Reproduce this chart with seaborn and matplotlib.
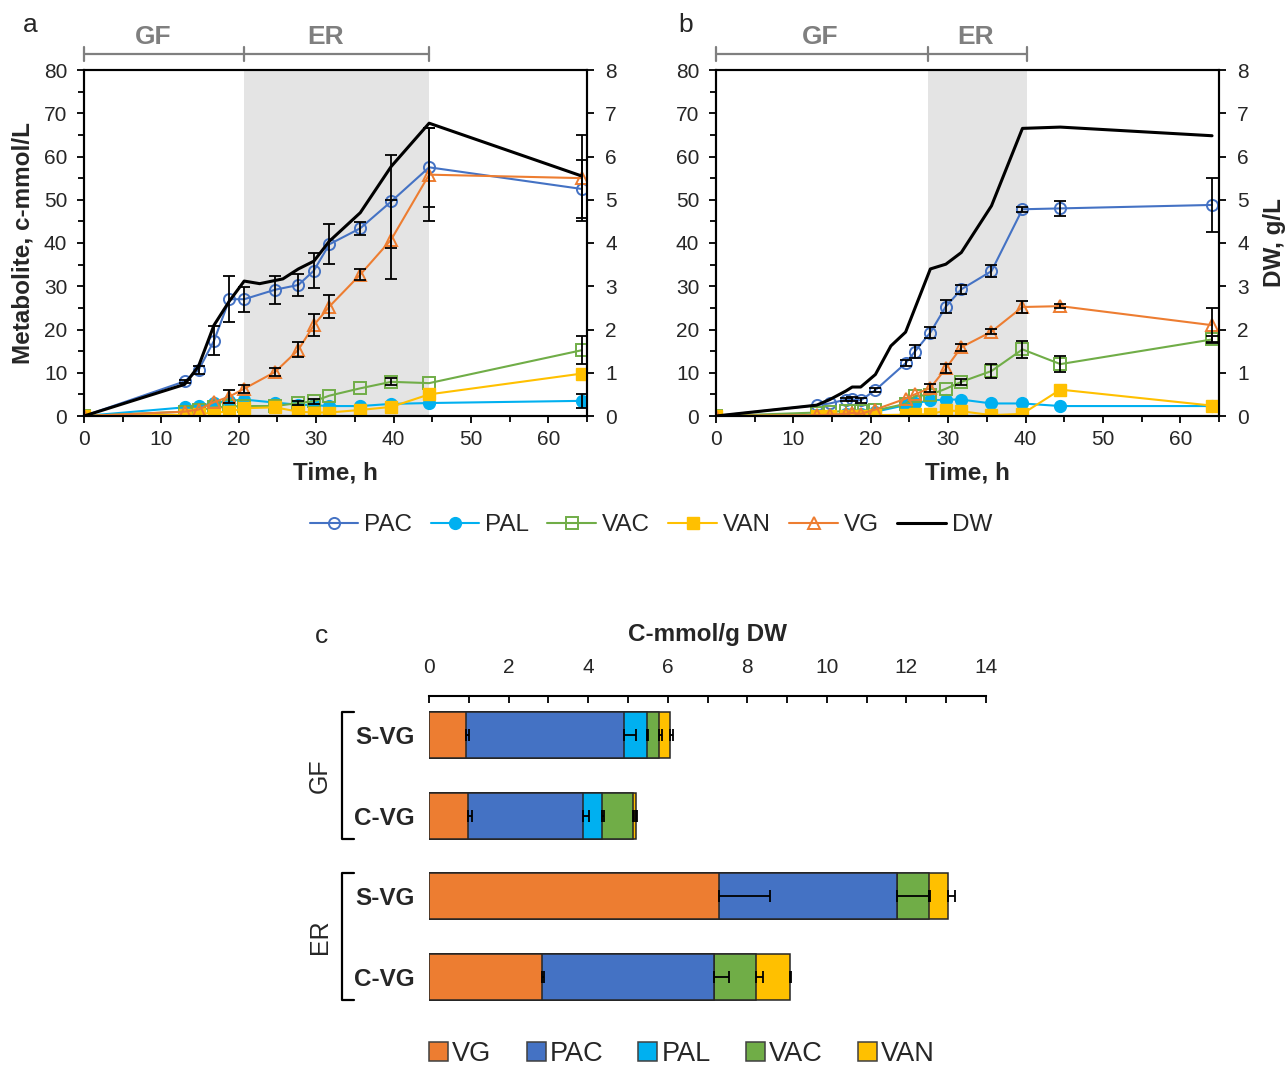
import numpy as np
import pandas as pd
import matplotlib
matplotlib.use("Agg")
import matplotlib.pyplot as plt
import matplotlib.transforms as mtransforms
from matplotlib.lines import Line2D
from matplotlib.patches import Patch
from matplotlib.ticker import MultipleLocator
import seaborn as sns

# ---- panel a data (c-mmol/L, DW in g/L) ----
time_a = [0, 13.0, 14.8, 16.8, 18.8, 20.7, 24.7, 27.7, 29.7, 31.7, 35.7, 39.7, 44.6, 64.3]
pac_a = [0, 8.0, 10.6, 17.4, 27.0, 27.0, 29.2, 30.3, 33.6, 39.7, 43.4, 49.6, 57.5, 52.5]
pac_a_err = [0, 0.4, 1.0, 3.4, 5.3, 2.9, 3.2, 2.5, 4.0, 4.6, 1.5, 10.8, 9.2, 6.8]
pal_a = [0, 2.0, 2.3, 3.0, 3.5, 3.8, 3.1, 2.6, 2.5, 2.3, 2.3, 2.8, 3.0, 3.5]
pal_a_err = [0, 0, 0, 0, 0, 0, 0, 0, 0, 0, 0, 0, 0, 1.7]
vac_a = [0, 1.0, 1.3, 2.0, 2.2, 2.3, 2.3, 3.0, 3.4, 4.7, 6.4, 7.9, 7.6, 15.2]
vac_a_err = [0, 0, 0, 0, 0, 0, 0, 0.4, 0.6, 0, 0, 0.8, 0, 3.2]
van_a = [0, 0.3, 0.4, 0.8, 1.0, 1.8, 2.0, 1.0, 0.8, 0.8, 1.4, 2.1, 5.0, 9.8]
vg_a = [0, 1.0, 1.5, 3.2, 4.5, 6.3, 10.2, 15.3, 21.0, 25.3, 32.7, 40.8, 55.8, 55.0]
vg_a_err = [0, 0, 0, 0, 1.4, 0.9, 1.0, 1.7, 2.5, 2.7, 1.2, 9.2, 10.8, 10.0]
dw_time_a = [0, 13.0, 14.8, 16.8, 18.8, 20.7, 22.7, 25.7, 27.7, 29.7, 31.7, 35.7, 39.7, 44.6, 64.3]
dw_a = [0, 0.73, 1.15, 2.1, 2.66, 3.12, 3.06, 3.17, 3.4, 3.58, 4.04, 4.7, 5.77, 6.77, 5.55]
phases_a = [0, 20.7, 44.6]

# ---- panel b data ----
time_b = [0, 13.0, 14.7, 16.8, 17.6, 18.7, 20.6, 24.5, 25.7, 27.7, 29.7, 31.7, 35.6, 39.6, 44.5, 64.1]
pac_b = [0, 2.5, 2.9, 3.8, 3.9, 3.6, 6.0, 12.2, 14.9, 19.3, 25.3, 29.3, 33.5, 47.8, 48.0, 48.8]
pac_b_err = [0, 0, 0, 0.4, 0.4, 0.6, 0.5, 0.7, 1.6, 1.2, 1.5, 1.0, 1.3, 0.6, 1.7, 6.3]
pal_b = [0, 0.3, 0.3, 0.4, 0.4, 0.4, 1.0, 2.5, 2.9, 3.6, 3.8, 3.8, 2.9, 2.9, 2.3, 2.3]
vac_b = [0, 0.8, 0.9, 1.2, 1.2, 1.2, 1.3, 2.8, 4.6, 4.9, 6.3, 7.9, 10.4, 15.4, 12.0, 17.7]
vac_b_err = [0, 0, 0, 0, 0, 0, 0, 0, 0, 0, 0, 0.7, 1.6, 1.9, 1.8, 0.8]
van_b = [0, 0.1, 0.1, 0.1, 0.1, 0.1, 0.2, 0.3, 0.4, 0.4, 1.3, 1.1, 0.2, 0.5, 6.1, 2.4]
vg_b = [0, 0.2, 0.3, 0.5, 0.7, 0.5, 1.5, 4.0, 5.0, 6.5, 11.0, 15.9, 19.5, 25.2, 25.4, 21.0]
vg_b_err = [0, 0, 0, 0, 0, 0, 0, 0, 0, 1.0, 1.0, 0.8, 0.6, 1.3, 0.5, 4.0]
dw_time_b = [0, 13.0, 14.7, 16.8, 17.6, 18.7, 20.6, 22.6, 24.5, 27.7, 29.7, 31.7, 35.6, 39.6, 44.5, 64.1]
dw_b = [0, 0.25, 0.38, 0.58, 0.67, 0.67, 0.96, 1.62, 1.94, 3.4, 3.51, 3.78, 4.86, 6.65, 6.68, 6.48]
phases_b = [0, 27.4, 40.2]

# ---- panel c data (C-mmol/g DW) ----
bar_groups = ["GF", "GF", "ER", "ER"]
bar_labels = ["S-VG", "C-VG", "S-VG", "C-VG"]
comp_names = ["VG", "PAC", "PAL", "VAC", "VAN"]
vg_c = [0.93, 0.97, 7.28, 2.85]
pac_c = [3.98, 2.90, 4.49, 4.32]
pal_c = [0.57, 0.49, 0.0, 0.0]
vac_c = [0.31, 0.76, 0.79, 1.04]
van_c = [0.28, 0.08, 0.48, 0.86]
vg_c_err = [0.08, 0.10, 1.30, 0.04]
pac_c_err = [0.30, 0.15, 0.79, 0.38]
pal_c_err = [0.03, 0.04, 0.0, 0.0]
vac_c_err = [0.06, 0.04, 0.02, 0.19]
van_c_err = [0.06, 0.03, 0.19, 0.03]

colors = {"PAC": "#4472C4", "PAL": "#00B0F0", "VAC": "#70AD47",
          "VAN": "#FFC000", "VG": "#ED7D31", "DW": "black"}
gray = "#7F7F7F"

sns.set_theme(style="ticks")
plt.rcParams["font.family"] = ["Liberation Sans", "DejaVu Sans"]

fig = plt.figure(figsize=(12.88, 10.66), dpi=100)
W, H = 1288, 1066


def px_axes(left, top, right, bottom):
    return fig.add_axes([left / W, 1 - bottom / H, (right - left) / W, (bottom - top) / H])


marker_style = {
    "PAC": dict(marker="o", mfc="none", ms=8, mew=1.4),
    "PAL": dict(marker="o", mfc=colors["PAL"], ms=8.5, mew=1.0),
    "VAC": dict(marker="s", mfc="none", ms=8, mew=1.4),
    "VAN": dict(marker="s", mfc=colors["VAN"], ms=8.5, mew=1.0),
    "VG": dict(marker="^", mfc="none", ms=8, mew=1.4),
}


def draw_errs(ax, x, y, err, **kw):
    # only points that actually carry an error bar
    x, y, err = np.asarray(x), np.asarray(y), np.asarray(err)
    keep = err > 0
    ax.errorbar(x[keep], y[keep], yerr=err[keep], fmt="none",
                ecolor="black", elinewidth=1.3, capsize=4, capthick=1.3, **kw)


def draw_panel(ax, t, series, errs, dw_t, dw, phases, left_label, right_label, lab_shift):
    ax.axvspan(phases[1], phases[2], color="#E4E4E4", lw=0, zorder=0)
    for name in ["PAC", "PAL", "VAC", "VAN", "VG"]:
        sns.lineplot(x=t, y=series[name], ax=ax, color=colors[name], lw=1.5,
                     mec=colors[name], legend=False, sort=False, estimator=None,
                     zorder=3, **marker_style[name])
        if name in errs:
            draw_errs(ax, t, series[name], errs[name], zorder=4)
    ax.set_xlim(0, 65)
    ax.set_ylim(0, 80)
    ax.xaxis.set_major_locator(MultipleLocator(10))
    ax.xaxis.set_minor_locator(MultipleLocator(5))
    ax.yaxis.set_major_locator(MultipleLocator(10))
    ax.yaxis.set_minor_locator(MultipleLocator(5))
    ax.tick_params(which="major", length=5, width=1.3, labelsize=15, pad=5, color="black")
    ax.tick_params(which="minor", length=4, width=1.3, color="black")
    ax.tick_params(axis="y", pad=7)
    ax.set_xlabel("Time, h", fontsize=17.5, fontweight="bold", labelpad=9)
    if left_label:
        ax.set_ylabel(left_label, fontsize=17.5, fontweight="bold", labelpad=7)
    for sp in ax.spines.values():
        sp.set_linewidth(1.5)
        sp.set_color("black")

    ax2 = ax.twinx()
    sns.lineplot(x=dw_t, y=dw, ax=ax2, color="black", lw=2.2, legend=False,
                 sort=False, estimator=None, zorder=5)
    ax2.set_ylim(0, 8)
    ax2.set_xlim(0, 65)
    ax2.yaxis.set_major_locator(MultipleLocator(1))
    ax2.tick_params(which="major", length=5, width=1.3, labelsize=15, pad=8, color="black")
    if right_label:
        ax2.set_ylabel(right_label, fontsize=17.5, fontweight="bold", labelpad=10)
    else:
        ax2.set_ylabel("")
    for sp in ax2.spines.values():
        sp.set_linewidth(1.5)
        sp.set_color("black")

    # phase brackets above the plot
    tr = ax.get_xaxis_transform()
    yl = 1.045
    ax.plot([phases[0], phases[2]], [yl, yl], color=gray, lw=1.6, transform=tr, clip_on=False)
    for p in phases:
        ax.plot([p, p], [1.025, 1.066], color=gray, lw=1.6, transform=tr, clip_on=False)
    for lab, a, b in [("GF", phases[0], phases[1]), ("ER", phases[1], phases[2])]:
        ax.text((a + b) / 2 + lab_shift, 1.074, lab, transform=tr, ha="center", va="baseline",
                fontsize=19, fontweight="bold", color=gray)


ax_a = px_axes(84, 70, 587, 416)
draw_panel(ax_a, time_a,
           {"PAC": pac_a, "PAL": pal_a, "VAC": vac_a, "VAN": van_a, "VG": vg_a},
           {"PAC": pac_a_err, "PAL": pal_a_err, "VAC": vac_a_err, "VG": vg_a_err},
           dw_time_a, dw_a, phases_a, "Metabolite, c-mmol/L", None, -1.4)

ax_b = px_axes(716, 70, 1219, 416)
draw_panel(ax_b, time_b,
           {"PAC": pac_b, "PAL": pal_b, "VAC": vac_b, "VAN": van_b, "VG": vg_b},
           {"PAC": pac_b_err, "VAC": vac_b_err, "VG": vg_b_err},
           dw_time_b, dw_b, phases_b, None, "DW, g/L", -0.2)

fig.text(30 / W, 1 - 25 / H, "a", fontsize=19, ha="center", va="center")
fig.text(686 / W, 1 - 25 / H, "b", fontsize=19, ha="center", va="center")

# legend for a/b
handles = []
for name in ["PAC", "PAL", "VAC", "VAN", "VG"]:
    handles.append(Line2D([], [], color=colors[name], lw=1.5, mec=colors[name],
                          **marker_style[name]))
handles.append(Line2D([], [], color="black", lw=2.2))
fig.legend(handles, ["PAC", "PAL", "VAC", "VAN", "VG", "DW"], loc="center",
           bbox_to_anchor=(651 / W, 1 - 525 / H), ncol=6, frameon=False,
           fontsize=17.5, handlelength=2.0, handletextpad=0.25, columnspacing=0.75)

# ---- panel c: stacked horizontal bars ----
ax_c = px_axes(429, 696, 986, 1010)
keys = [g + " " + l for g, l in zip(bar_groups, bar_labels)]
parts = [vg_c, pac_c, pal_c, vac_c, van_c]
part_errs = [vg_c_err, pac_c_err, pal_c_err, vac_c_err, van_c_err]
cums = np.cumsum(np.array(parts), axis=0)
bar_h = 0.57
# draw from the largest cumulative down so each segment shows its own colour
for i in range(len(comp_names) - 1, -1, -1):
    sns.barplot(x=cums[i], y=keys, orient="h", color=colors[comp_names[i]],
                edgecolor="#262626", linewidth=1.1, width=bar_h, errorbar=None,
                saturation=1, ax=ax_c, zorder=2)
for i in range(len(comp_names)):
    err = np.array(part_errs[i])
    keep = err > 0
    ax_c.errorbar(cums[i][keep], np.arange(len(keys))[keep],
                  xerr=[np.zeros(keep.sum()), err[keep]],
                  fmt="none", ecolor="black", elinewidth=1.3, capsize=4, capthick=1.3,
                  zorder=5)

ax_c.set_xlim(0, 14)
ax_c.set_ylim(3.41, -0.483)
ax_c.set_yticks(range(len(keys)))
ax_c.set_yticklabels(bar_labels, fontsize=17.5, fontweight="bold")
ax_c.tick_params(axis="y", length=0, pad=10)
ax_c.xaxis.tick_top()
ax_c.xaxis.set_label_position("top")
ax_c.xaxis.set_major_locator(MultipleLocator(2))
ax_c.xaxis.set_minor_locator(MultipleLocator(1))
ax_c.tick_params(axis="x", which="both", direction="in", length=5, width=1.3,
                 labelsize=15, pad=14, color="black")
ax_c.set_xlabel("C-mmol/g DW", fontsize=17.5, fontweight="bold", labelpad=12)
ax_c.set_ylabel("")
for side in ["left", "right", "bottom"]:
    ax_c.spines[side].set_visible(False)
ax_c.spines["top"].set_linewidth(1.5)
ax_c.spines["top"].set_color("black")

# group brackets
btr = mtransforms.blended_transform_factory(ax_c.transAxes, ax_c.transData)
bx, cx = -0.156, -0.135
for grp, y0, y1 in [("GF", 0 - bar_h / 2, 1 + bar_h / 2), ("ER", 2 - bar_h / 2, 3 + bar_h / 2)]:
    ax_c.plot([cx, bx, bx, cx], [y0, y0, y1, y1], color="black", lw=1.6,
              transform=btr, clip_on=False)
    ax_c.text(-0.196, (y0 + y1) / 2, grp, rotation=90, ha="center", va="center",
              fontsize=18, transform=btr)

fig.text(322 / W, 1 - 636 / H, "c", fontsize=19, ha="center", va="center")

c_handles = [Patch(facecolor=colors[n], edgecolor="#404040", linewidth=1.1) for n in comp_names]
fig.legend(c_handles, comp_names, loc="center", bbox_to_anchor=(682 / W, 1 - 1054 / H),
           ncol=5, frameon=False, fontsize=19.5, handlelength=0.7, handleheight=0.7,
           handletextpad=0.15, columnspacing=1.3)

fig.savefig("out.png", dpi=100)
